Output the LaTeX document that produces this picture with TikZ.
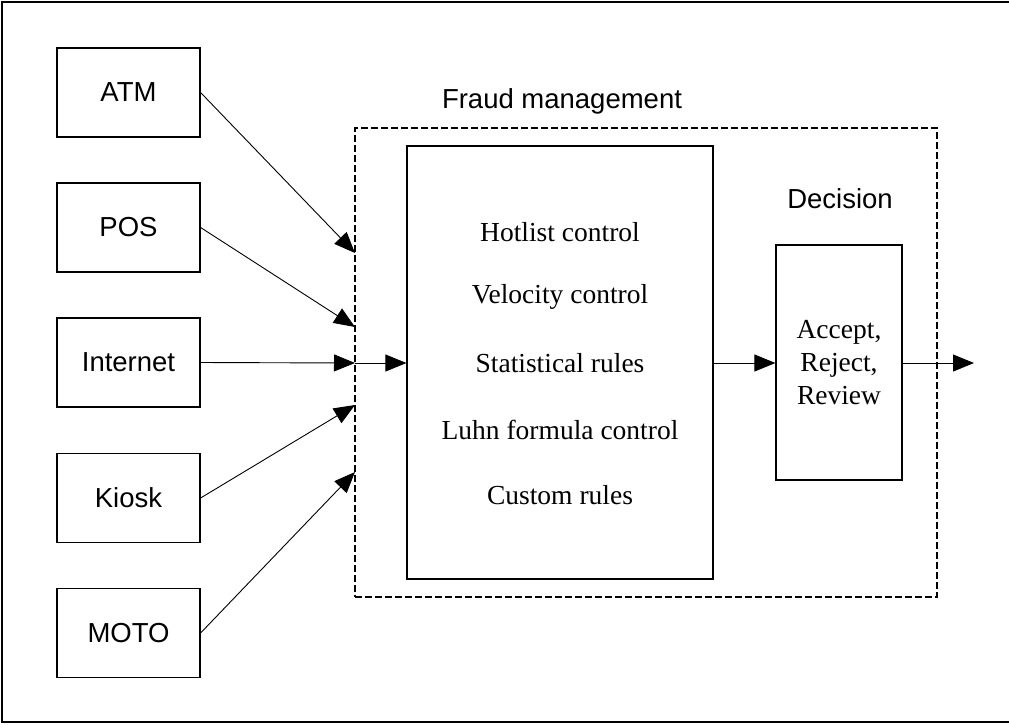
\documentclass[tikz,border=0pt]{standalone}
\usepackage{fontspec}
\setmainfont{Liberation Serif}
\setsansfont{Liberation Sans}
\usetikzlibrary{arrows.meta}

\tikzset{
  srcbox/.style={draw, line width=1.2pt, inner sep=0pt, minimum width=143pt, minimum height=89pt,
    font=\sffamily\fontsize{27.5}{33}\selectfont},
  sanslbl/.style={inner sep=0pt, font=\sffamily\fontsize{27.5}{33}\selectfont},
  rulelbl/.style={inner sep=0pt, font=\fontsize{27.5}{33}\selectfont},
  arr/.style={-{Triangle[length=21pt,width=17pt]}, line width=0.9pt},
}

\begin{document}
\begin{tikzpicture}[x=1pt,y=-1pt]
		\useasboundingbox (0,0) rectangle (1009,724);
		% 外框（右侧开口）
		\draw[line width=1.2pt] (1015,2) -- (2,2) -- (2,722) -- (1015,722);
		
		% 左侧渠道
		\node[srcbox] (atm)   at (128.5,92.5)  {ATM};
		\node[srcbox] (pos)   at (128.5,227.5) {POS};
		\node[srcbox] (inet)  at (128.5,362.5) {Internet};
		\node[srcbox] (kiosk) at (128.5,498)   {Kiosk};
		\node[srcbox] (moto)  at (128.5,633)   {MOTO};
		
		% 欺诈管理（虚线框）
		\node[draw, line width=1.2pt, dash pattern=on 7pt off 3pt, inner sep=0pt,
			minimum width=582pt, minimum height=469pt] (fm) at (646,362.5) {};
		\node[sanslbl] (fmlbl) at (562,101) {Fraud management};
		
		% 规则框
		\node[draw, line width=1.2pt, inner sep=0pt, minimum width=306pt, minimum height=433pt] (rules) at (560,362.5) {};
		\node[rulelbl] (r1) at (560,232) {Hotlist control};
		\node[rulelbl] (r2) at (560,297) {Velocity control};
		\node[rulelbl] (r3) at (560,363) {Statistical rules};
		\node[rulelbl] (r4) at (560,430) {Luhn formula control};
		\node[rulelbl] (r5) at (560,495) {Custom rules};
		
		% 决策
		\node[sanslbl] (declbl) at (840,199) {Decision};
		\node[draw, line width=1.2pt, inner sep=0pt, minimum width=126pt, minimum height=235pt,
			align=center, font=\fontsize{27.5}{33}\selectfont] (dec) at (839,362.5) {Accept,\\Reject,\\Review};
		
		% 箭头终点（虚线框左边）
		\coordinate (inA) at (355,253);
		\coordinate (inB) at (355,327);
		\coordinate (inC) at (355,363);
		\coordinate (inD) at (355,405);
		\coordinate (inE) at (355,472);
		\coordinate (out) at (974,363);
		
		% 连线
		\draw[arr] (atm.east) -- (inA);
		\draw[arr] (pos.east) -- (inB);
		\draw[arr] (inet.east) -- (inC);
		\draw[arr] (inC) -- (rules.west |- inC);
		\draw[arr] (kiosk.east) -- (inD);
		\draw[arr] (moto.east) -- (inE);
		\draw[arr] (rules.east |- inC) -- (dec.west |- inC);
		\draw[arr] (dec.east |- inC) -- (out);
	\end{tikzpicture}
\end{document}
